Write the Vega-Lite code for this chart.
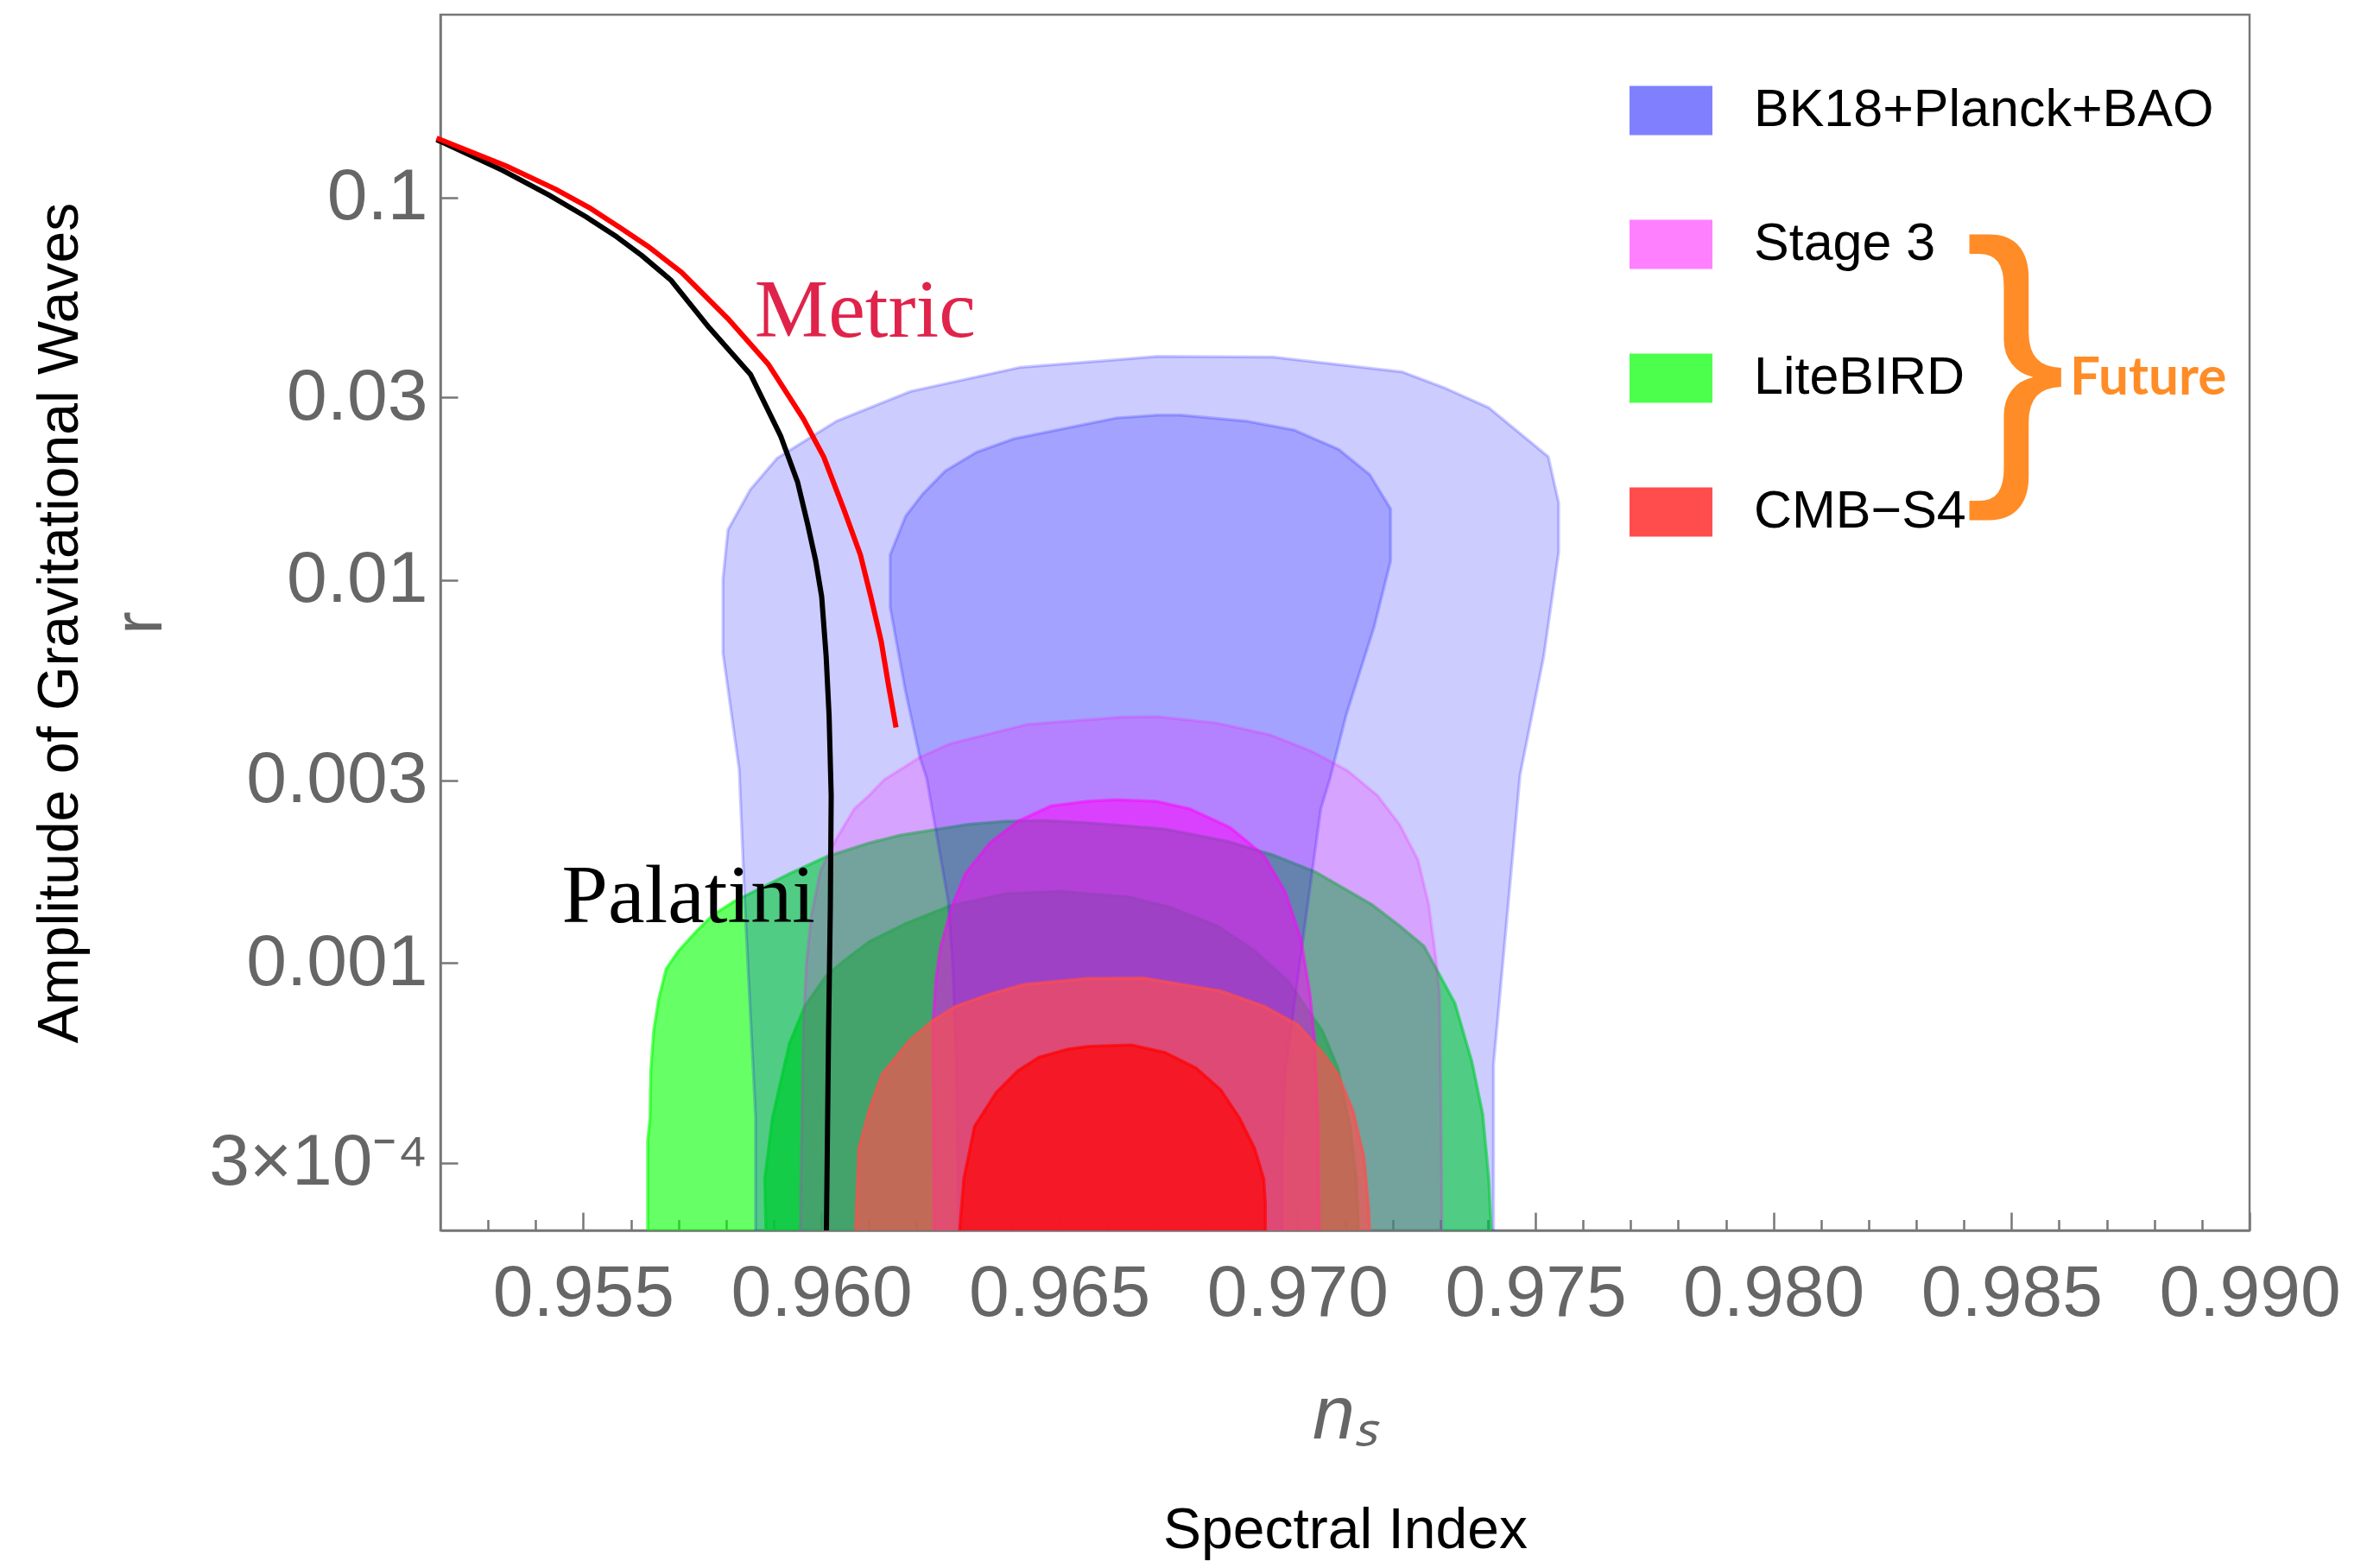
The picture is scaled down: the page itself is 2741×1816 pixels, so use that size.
{
  "$schema": "https://vega.github.io/schema/vega-lite/v6.json",
  "width": 2095,
  "height": 1408,
  "autosize": {"type": "none"},
  "padding": {"left": 510, "top": 17, "right": 136, "bottom": 391},
  "background": "white",
  "config": {
    "view": {"stroke": "#777777", "strokeWidth": 2.5},
    "axis": {
      "grid": false,
      "labelFont": "Liberation Sans",
      "titleFont": "Liberation Sans",
      "domainColor": "#777777",
      "domainWidth": 2.5,
      "tickColor": "#777777",
      "tickWidth": 2.5,
      "labelColor": "#666666",
      "labelFlush": false,
      "labelOverlap": false,
      "labelLimit": 1000,
      "titleFontWeight": "normal",
      "zindex": 1
    }
  },
  "datasets": {
    "contours": [
      {"c":"LBo","i":0,"ns":0.956353,"r":0.00018},
      {"c":"LBo","i":1,"ns":0.956353,"r":0.0003407},
      {"c":"LBo","i":2,"ns":0.956404,"r":0.0003947},
      {"c":"LBo","i":3,"ns":0.956419,"r":0.000522},
      {"c":"LBo","i":4,"ns":0.95648,"r":0.000664},
      {"c":"LBo","i":5,"ns":0.95658,"r":0.0007991},
      {"c":"LBo","i":6,"ns":0.956741,"r":0.0009636},
      {"c":"LBo","i":7,"ns":0.957001,"r":0.0010745},
      {"c":"LBo","i":8,"ns":0.957387,"r":0.0012133},
      {"c":"LBo","i":9,"ns":0.957714,"r":0.0013308},
      {"c":"LBo","i":10,"ns":0.958167,"r":0.0014466},
      {"c":"LBo","i":11,"ns":0.958684,"r":0.0015584},
      {"c":"LBo","i":12,"ns":0.959332,"r":0.0017093},
      {"c":"LBo","i":13,"ns":0.960108,"r":0.0018936},
      {"c":"LBo","i":14,"ns":0.961015,"r":0.0020578},
      {"c":"LBo","i":15,"ns":0.961662,"r":0.0021564},
      {"c":"LBo","i":16,"ns":0.963088,"r":0.0023},
      {"c":"LBo","i":17,"ns":0.963862,"r":0.0023434},
      {"c":"LBo","i":18,"ns":0.964697,"r":0.0023556},
      {"c":"LBo","i":19,"ns":0.965604,"r":0.0023216},
      {"c":"LBo","i":20,"ns":0.967218,"r":0.0022363},
      {"c":"LBo","i":21,"ns":0.968519,"r":0.0020793},
      {"c":"LBo","i":22,"ns":0.969485,"r":0.0019134},
      {"c":"LBo","i":23,"ns":0.970392,"r":0.0017244},
      {"c":"LBo","i":24,"ns":0.971553,"r":0.0014227},
      {"c":"LBo","i":25,"ns":0.972145,"r":0.0012498},
      {"c":"LBo","i":26,"ns":0.972659,"r":0.001105},
      {"c":"LBo","i":27,"ns":0.973309,"r":0.0007843},
      {"c":"LBo","i":28,"ns":0.973666,"r":0.0005515},
      {"c":"LBo","i":29,"ns":0.973893,"r":0.0004023},
      {"c":"LBo","i":30,"ns":0.97402,"r":0.0002725},
      {"c":"LBo","i":31,"ns":0.974089,"r":0.00018},

      {"c":"LBi","i":0,"ns":0.958845,"r":0.00018},
      {"c":"LBi","i":1,"ns":0.958813,"r":0.0002725},
      {"c":"LBi","i":2,"ns":0.958976,"r":0.0003947},
      {"c":"LBi","i":3,"ns":0.959332,"r":0.0006164},
      {"c":"LBi","i":4,"ns":0.959654,"r":0.0007705},
      {"c":"LBi","i":5,"ns":0.960108,"r":0.0009268},
      {"c":"LBi","i":6,"ns":0.960498,"r":0.0010171},
      {"c":"LBi","i":7,"ns":0.961015,"r":0.0011376},
      {"c":"LBi","i":8,"ns":0.961795,"r":0.0012707},
      {"c":"LBi","i":9,"ns":0.962698,"r":0.001408},
      {"c":"LBi","i":10,"ns":0.963862,"r":0.0015144},
      {"c":"LBi","i":11,"ns":0.96506,"r":0.0015382},
      {"c":"LBi","i":12,"ns":0.965604,"r":0.0015148},
      {"c":"LBi","i":13,"ns":0.966445,"r":0.0014871},
      {"c":"LBi","i":14,"ns":0.967352,"r":0.0013934},
      {"c":"LBi","i":15,"ns":0.968325,"r":0.0012472},
      {"c":"LBi","i":16,"ns":0.969101,"r":0.0010745},
      {"c":"LBi","i":17,"ns":0.969812,"r":0.0008932},
      {"c":"LBi","i":18,"ns":0.970525,"r":0.000664},
      {"c":"LBi","i":19,"ns":0.97085,"r":0.0005313},
      {"c":"LBi","i":20,"ns":0.971109,"r":0.0003734},
      {"c":"LBi","i":21,"ns":0.971238,"r":0.0002725},
      {"c":"LBi","i":22,"ns":0.971299,"r":0.00018},

      {"c":"Bo","i":0,"ns":0.95862,"r":0.00018},
      {"c":"Bo","i":1,"ns":0.95862,"r":0.0003947},
      {"c":"Bo","i":2,"ns":0.958392,"r":0.0014466},
      {"c":"Bo","i":3,"ns":0.958276,"r":0.003201},
      {"c":"Bo","i":4,"ns":0.957935,"r":0.006442},
      {"c":"Bo","i":5,"ns":0.957935,"r":0.010082},
      {"c":"Bo","i":6,"ns":0.95804,"r":0.013536},
      {"c":"Bo","i":7,"ns":0.95851,"r":0.017245},
      {"c":"Bo","i":8,"ns":0.959072,"r":0.020821},
      {"c":"Bo","i":9,"ns":0.960322,"r":0.026031},
      {"c":"Bo","i":10,"ns":0.961884,"r":0.031139},
      {"c":"Bo","i":11,"ns":0.964164,"r":0.035929},
      {"c":"Bo","i":12,"ns":0.967055,"r":0.038393},
      {"c":"Bo","i":13,"ns":0.969491,"r":0.038254},
      {"c":"Bo","i":14,"ns":0.972208,"r":0.034971},
      {"c":"Bo","i":15,"ns":0.973113,"r":0.031695},
      {"c":"Bo","i":16,"ns":0.97402,"r":0.028214},
      {"c":"Bo","i":17,"ns":0.97527,"r":0.021006},
      {"c":"Bo","i":18,"ns":0.975489,"r":0.015913},
      {"c":"Bo","i":19,"ns":0.975489,"r":0.011843},
      {"c":"Bo","i":20,"ns":0.975175,"r":0.006329},
      {"c":"Bo","i":21,"ns":0.974677,"r":0.003093},
      {"c":"Bo","i":22,"ns":0.97412,"r":0.0005413},
      {"c":"Bo","i":23,"ns":0.97412,"r":0.00018},

      {"c":"Bi","i":0,"ns":0.962894,"r":0.00018},
      {"c":"Bi","i":1,"ns":0.962829,"r":0.0005731},
      {"c":"Bi","i":2,"ns":0.962763,"r":0.0009636},
      {"c":"Bi","i":3,"ns":0.962665,"r":0.0014466},
      {"c":"Bi","i":4,"ns":0.96244,"r":0.0020966},
      {"c":"Bi","i":5,"ns":0.962212,"r":0.003039},
      {"c":"Bi","i":6,"ns":0.96207,"r":0.003443},
      {"c":"Bi","i":7,"ns":0.961758,"r":0.005199},
      {"c":"Bi","i":8,"ns":0.961446,"r":0.008506},
      {"c":"Bi","i":9,"ns":0.961446,"r":0.011636},
      {"c":"Bi","i":10,"ns":0.961771,"r":0.01468},
      {"c":"Bi","i":11,"ns":0.962132,"r":0.016795},
      {"c":"Bi","i":12,"ns":0.962602,"r":0.019277},
      {"c":"Bi","i":13,"ns":0.963257,"r":0.021577},
      {"c":"Bi","i":14,"ns":0.964038,"r":0.023385},
      {"c":"Bi","i":15,"ns":0.966193,"r":0.02651},
      {"c":"Bi","i":16,"ns":0.967055,"r":0.026982},
      {"c":"Bi","i":17,"ns":0.967556,"r":0.026982},
      {"c":"Bi","i":18,"ns":0.968929,"r":0.026031},
      {"c":"Bi","i":19,"ns":0.969928,"r":0.024672},
      {"c":"Bi","i":20,"ns":0.970866,"r":0.021962},
      {"c":"Bi","i":21,"ns":0.97152,"r":0.018861},
      {"c":"Bi","i":22,"ns":0.971959,"r":0.015351},
      {"c":"Bi","i":23,"ns":0.971959,"r":0.011226},
      {"c":"Bi","i":24,"ns":0.971615,"r":0.00757},
      {"c":"Bi","i":25,"ns":0.971022,"r":0.004425},
      {"c":"Bi","i":26,"ns":0.970688,"r":0.003039},
      {"c":"Bi","i":27,"ns":0.970492,"r":0.002525},
      {"c":"Bi","i":28,"ns":0.970138,"r":0.001202},
      {"c":"Bi","i":29,"ns":0.969879,"r":0.0006889},
      {"c":"Bi","i":30,"ns":0.969748,"r":0.000522},
      {"c":"Bi","i":31,"ns":0.969685,"r":0.0003285},
      {"c":"Bi","i":32,"ns":0.969685,"r":0.00018},

      {"c":"So","i":0,"ns":0.959558,"r":0.00018},
      {"c":"So","i":1,"ns":0.959558,"r":0.0002026},
      {"c":"So","i":2,"ns":0.959591,"r":0.0003947},
      {"c":"So","i":3,"ns":0.959623,"r":0.0006889},
      {"c":"So","i":4,"ns":0.959687,"r":0.0009993},
      {"c":"So","i":5,"ns":0.959785,"r":0.0013184},
      {"c":"So","i":6,"ns":0.959981,"r":0.0017424},
      {"c":"So","i":7,"ns":0.960304,"r":0.0020966},
      {"c":"So","i":8,"ns":0.960692,"r":0.002525},
      {"c":"So","i":9,"ns":0.961008,"r":0.00274},
      {"c":"So","i":10,"ns":0.961321,"r":0.003011},
      {"c":"So","i":11,"ns":0.96207,"r":0.003443},
      {"c":"So","i":12,"ns":0.962694,"r":0.003734},
      {"c":"So","i":13,"ns":0.964316,"r":0.004195},
      {"c":"So","i":14,"ns":0.966318,"r":0.004386},
      {"c":"So","i":15,"ns":0.967055,"r":0.004395},
      {"c":"So","i":16,"ns":0.968305,"r":0.004232},
      {"c":"So","i":17,"ns":0.969429,"r":0.003941},
      {"c":"So","i":18,"ns":0.970302,"r":0.00357},
      {"c":"So","i":19,"ns":0.971053,"r":0.003178},
      {"c":"So","i":20,"ns":0.971678,"r":0.00274},
      {"c":"So","i":21,"ns":0.972145,"r":0.0023},
      {"c":"So","i":22,"ns":0.972533,"r":0.0018585},
      {"c":"So","i":23,"ns":0.972759,"r":0.0014198},
      {"c":"So","i":24,"ns":0.972921,"r":0.0009993},
      {"c":"So","i":25,"ns":0.972986,"r":0.0008287},
      {"c":"So","i":26,"ns":0.973019,"r":0.0003947},
      {"c":"So","i":27,"ns":0.973041,"r":0.00018},

      {"c":"Si","i":0,"ns":0.962375,"r":0.00018},
      {"c":"Si","i":1,"ns":0.962357,"r":0.0003801},
      {"c":"Si","i":2,"ns":0.962342,"r":0.0006889},
      {"c":"Si","i":3,"ns":0.962408,"r":0.0009101},
      {"c":"Si","i":4,"ns":0.962502,"r":0.001097},
      {"c":"Si","i":5,"ns":0.962731,"r":0.0013934},
      {"c":"Si","i":6,"ns":0.963023,"r":0.0017093},
      {"c":"Si","i":7,"ns":0.963541,"r":0.0020578},
      {"c":"Si","i":8,"ns":0.964124,"r":0.0023434},
      {"c":"Si","i":9,"ns":0.964837,"r":0.002573},
      {"c":"Si","i":10,"ns":0.9656,"r":0.002643},
      {"c":"Si","i":11,"ns":0.966184,"r":0.002668},
      {"c":"Si","i":12,"ns":0.967028,"r":0.002643},
      {"c":"Si","i":13,"ns":0.96774,"r":0.002525},
      {"c":"Si","i":14,"ns":0.968582,"r":0.0022597},
      {"c":"Si","i":15,"ns":0.969295,"r":0.0019104},
      {"c":"Si","i":16,"ns":0.969748,"r":0.0015302},
      {"c":"Si","i":17,"ns":0.970073,"r":0.0011579},
      {"c":"Si","i":18,"ns":0.970265,"r":0.0008287},
      {"c":"Si","i":19,"ns":0.970363,"r":0.0006277},
      {"c":"Si","i":20,"ns":0.970429,"r":0.0003947},
      {"c":"Si","i":21,"ns":0.970461,"r":0.00018},

      {"c":"Co","i":0,"ns":0.960725,"r":0.00018},
      {"c":"Co","i":1,"ns":0.960725,"r":0.0002061},
      {"c":"Co","i":2,"ns":0.960788,"r":0.0003278},
      {"c":"Co","i":3,"ns":0.961015,"r":0.0004172},
      {"c":"Co","i":4,"ns":0.961274,"r":0.000512},
      {"c":"Co","i":5,"ns":0.961856,"r":0.0006277},
      {"c":"Co","i":6,"ns":0.96231,"r":0.0007019},
      {"c":"Co","i":7,"ns":0.962829,"r":0.0007705},
      {"c":"Co","i":8,"ns":0.963541,"r":0.0008287},
      {"c":"Co","i":9,"ns":0.964254,"r":0.0008775},
      {"c":"Co","i":10,"ns":0.9656,"r":0.0009101},
      {"c":"Co","i":11,"ns":0.966765,"r":0.0009129},
      {"c":"Co","i":12,"ns":0.968388,"r":0.0008446},
      {"c":"Co","i":13,"ns":0.969295,"r":0.0007705},
      {"c":"Co","i":14,"ns":0.970008,"r":0.0006889},
      {"c":"Co","i":15,"ns":0.970525,"r":0.000583},
      {"c":"Co","i":16,"ns":0.97085,"r":0.000512},
      {"c":"Co","i":17,"ns":0.971172,"r":0.0004095},
      {"c":"Co","i":18,"ns":0.971399,"r":0.0003102},
      {"c":"Co","i":19,"ns":0.971499,"r":0.0002259},
      {"c":"Co","i":20,"ns":0.971529,"r":0.00018},

      {"c":"Ci","i":0,"ns":0.962894,"r":0.00018},
      {"c":"Ci","i":1,"ns":0.962894,"r":0.0001913},
      {"c":"Ci","i":2,"ns":0.962992,"r":0.0002725},
      {"c":"Ci","i":3,"ns":0.963217,"r":0.0003734},
      {"c":"Ci","i":4,"ns":0.96367,"r":0.0004581},
      {"c":"Ci","i":5,"ns":0.964124,"r":0.000522},
      {"c":"Ci","i":6,"ns":0.964577,"r":0.0005671},
      {"c":"Ci","i":7,"ns":0.965159,"r":0.0005942},
      {"c":"Ci","i":8,"ns":0.9656,"r":0.0006048},
      {"c":"Ci","i":9,"ns":0.966511,"r":0.0006105},
      {"c":"Ci","i":10,"ns":0.967224,"r":0.000583},
      {"c":"Ci","i":11,"ns":0.967871,"r":0.0005313},
      {"c":"Ci","i":12,"ns":0.968388,"r":0.0004663},
      {"c":"Ci","i":13,"ns":0.968778,"r":0.0003947},
      {"c":"Ci","i":14,"ns":0.969101,"r":0.0003278},
      {"c":"Ci","i":15,"ns":0.969295,"r":0.0002725},
      {"c":"Ci","i":16,"ns":0.969328,"r":0.0002347},
      {"c":"Ci","i":17,"ns":0.969328,"r":0.00018}
    ],
    "curves": [
      {"m":"Palatini","i":0,"ns":0.95192,"r":0.1415},
      {"m":"Palatini","i":1,"ns":0.953308,"r":0.11754},
      {"m":"Palatini","i":2,"ns":0.95428,"r":0.10134},
      {"m":"Palatini","i":3,"ns":0.955056,"r":0.08896},
      {"m":"Palatini","i":4,"ns":0.955704,"r":0.07884},
      {"m":"Palatini","i":5,"ns":0.956223,"r":0.07058},
      {"m":"Palatini","i":6,"ns":0.956837,"r":0.06084},
      {"m":"Palatini","i":7,"ns":0.957646,"r":0.04563},
      {"m":"Palatini","i":8,"ns":0.958515,"r":0.03443},
      {"m":"Palatini","i":9,"ns":0.959146,"r":0.0238},
      {"m":"Palatini","i":10,"ns":0.9595,"r":0.01807},
      {"m":"Palatini","i":11,"ns":0.959709,"r":0.01408},
      {"m":"Palatini","i":12,"ns":0.959883,"r":0.01123},
      {"m":"Palatini","i":13,"ns":0.960008,"r":0.009053},
      {"m":"Palatini","i":14,"ns":0.960102,"r":0.006329},
      {"m":"Palatini","i":15,"ns":0.960164,"r":0.004425},
      {"m":"Palatini","i":16,"ns":0.960208,"r":0.00274},
      {"m":"Palatini","i":17,"ns":0.96019,"r":0.001394},
      {"m":"Palatini","i":18,"ns":0.960153,"r":0.0006595},
      {"m":"Palatini","i":19,"ns":0.960108,"r":0.0002},
      {"m":"Metric","i":0,"ns":0.95192,"r":0.1428},
      {"m":"Metric","i":1,"ns":0.953373,"r":0.12089},
      {"m":"Metric","i":2,"ns":0.954409,"r":0.10515},
      {"m":"Metric","i":3,"ns":0.955122,"r":0.09408},
      {"m":"Metric","i":4,"ns":0.955769,"r":0.08335},
      {"m":"Metric","i":5,"ns":0.956351,"r":0.07462},
      {"m":"Metric","i":6,"ns":0.957064,"r":0.06372},
      {"m":"Metric","i":7,"ns":0.958035,"r":0.04825},
      {"m":"Metric","i":8,"ns":0.958893,"r":0.03655},
      {"m":"Metric","i":9,"ns":0.959627,"r":0.02633},
      {"m":"Metric","i":10,"ns":0.960053,"r":0.02096},
      {"m":"Metric","i":11,"ns":0.960485,"r":0.01517},
      {"m":"Metric","i":12,"ns":0.960821,"r":0.01164},
      {"m":"Metric","i":13,"ns":0.96104,"r":0.009053},
      {"m":"Metric","i":14,"ns":0.961258,"r":0.006924},
      {"m":"Metric","i":15,"ns":0.961414,"r":0.005292},
      {"m":"Metric","i":16,"ns":0.96157,"r":0.004119}
    ],
    "surveys": [
      {"survey":"BK18+Planck+BAO"},
      {"survey":"Stage 3"},
      {"survey":"LiteBIRD"},
      {"survey":"CMB−S4"}
    ]
  },
  "encoding": {
    "x": {"field": "ns", "type": "quantitative", "scale": {"domain": [0.952, 0.99], "nice": false, "zero": false}, "axis": null},
    "y": {"field": "r", "type": "quantitative", "scale": {"type": "log", "domain": [0.0002, 0.3], "nice": false}, "axis": null}
  },
  "layer": [
    {
      "data": {"name": "contours"},
      "transform": [{"filter": "datum.c === 'LBo'"}],
      "mark": {"type": "line", "clip": true, "fill": "#00ff00", "fillOpacity": 0.6, "stroke": "#00ff00", "strokeOpacity": 0.6, "strokeWidth": 3.5, "strokeJoin": "round"},
      "encoding": {
        "x": {"field": "ns", "type": "quantitative", "scale": {"domain": [0.952, 0.99], "nice": false, "zero": false},
          "axis": {"orient": "bottom", "values": [0.955, 0.96, 0.965, 0.97, 0.975, 0.98, 0.985, 0.99], "format": ".3f",
            "tickSize": -21, "labelFontSize": 84, "labelPadding": 53,
            "title": "nₛ", "titleFontSize": 88, "titleFontStyle": "italic", "titleColor": "#666666", "titlePadding": 55}},
        "y": {"field": "r", "type": "quantitative", "scale": {"type": "log", "domain": [0.0002, 0.3], "nice": false},
          "axis": {"orient": "left", "values": [0.0003, 0.001, 0.003, 0.01, 0.03, 0.1], "format": "~g",
            "labelExpr": "datum.value < 0.0005 ? '3×10⁻⁴' : datum.label",
            "tickSize": -20, "labelFontSize": 84, "labelPadding": 35,
            "title": "r", "titleFontSize": 80, "titleColor": "#666666", "titlePadding": 107}},
        "order": {"field": "i", "type": "quantitative"}
      }
    },
    {
      "data": {"name": "contours"},
      "transform": [{"filter": "datum.c === 'LBi'"}],
      "mark": {"type": "line", "clip": true, "fill": "#00ff00", "fillOpacity": 0.75, "stroke": "#00ff00", "strokeOpacity": 0.75, "strokeWidth": 3.5, "strokeJoin": "round"},
      "encoding": {
        "x": {"field": "ns", "type": "quantitative", "scale": {"domain": [0.952, 0.99], "nice": false, "zero": false},
          "axis": {"orient": "bottom", "values": [0.953, 0.954, 0.956, 0.957, 0.958, 0.959, 0.961, 0.962, 0.963, 0.964, 0.966, 0.967, 0.968, 0.969, 0.971, 0.972, 0.973, 0.974, 0.976, 0.977, 0.978, 0.979, 0.981, 0.982, 0.983, 0.984, 0.986, 0.987, 0.988, 0.989],
            "tickSize": -12.5, "labels": false, "domain": false,
            "title": "Spectral Index", "titleFontSize": 66, "titleColor": "black", "titlePadding": 314}},
        "y": {"field": "r", "type": "quantitative", "scale": {"type": "log", "domain": [0.0002, 0.3], "nice": false},
          "axis": {"orient": "left", "domain": false, "ticks": false, "labels": false,
            "title": "Amplitude of Gravitational Waves", "titleFontSize": 66, "titleColor": "black", "titlePadding": 407}},
        "order": {"field": "i", "type": "quantitative"}
      }
    },
    {
      "data": {"name": "contours"},
      "transform": [{"filter": "datum.c === 'Bo'"}],
      "mark": {"type": "line", "clip": true, "fill": "#0000ff", "fillOpacity": 0.2, "stroke": "#0000ff", "strokeOpacity": 0.2, "strokeWidth": 3.5, "strokeJoin": "round"},
      "encoding": {"order": {"field": "i", "type": "quantitative"}}
    },
    {
      "data": {"name": "contours"},
      "transform": [{"filter": "datum.c === 'Bi'"}],
      "mark": {"type": "line", "clip": true, "fill": "#0000ff", "fillOpacity": 0.2, "stroke": "#0000ff", "strokeOpacity": 0.2, "strokeWidth": 3.5, "strokeJoin": "round"},
      "encoding": {"order": {"field": "i", "type": "quantitative"}}
    },
    {
      "data": {"name": "contours"},
      "transform": [{"filter": "datum.c === 'So'"}],
      "mark": {"type": "line", "clip": true, "fill": "#ff00ff", "fillOpacity": 0.2, "stroke": "#ff00ff", "strokeOpacity": 0.2, "strokeWidth": 3.5, "strokeJoin": "round"},
      "encoding": {"order": {"field": "i", "type": "quantitative"}}
    },
    {
      "data": {"name": "contours"},
      "transform": [{"filter": "datum.c === 'Si'"}],
      "mark": {"type": "line", "clip": true, "fill": "#ff00ff", "fillOpacity": 0.5, "stroke": "#ff00ff", "strokeOpacity": 0.5, "strokeWidth": 3.5, "strokeJoin": "round"},
      "encoding": {"order": {"field": "i", "type": "quantitative"}}
    },
    {
      "data": {"name": "contours"},
      "transform": [{"filter": "datum.c === 'Co'"}],
      "mark": {"type": "line", "clip": true, "fill": "#ff4d4d", "fillOpacity": 0.67, "stroke": "#ff4d4d", "strokeOpacity": 0.67, "strokeWidth": 3.5, "strokeJoin": "round"},
      "encoding": {"order": {"field": "i", "type": "quantitative"}}
    },
    {
      "data": {"name": "contours"},
      "transform": [{"filter": "datum.c === 'Ci'"}],
      "mark": {"type": "line", "clip": true, "fill": "#ff0000", "fillOpacity": 0.67, "stroke": "#ff0000", "strokeOpacity": 0.67, "strokeWidth": 3.5, "strokeJoin": "round"},
      "encoding": {"order": {"field": "i", "type": "quantitative"}}
    },
    {
      "data": {"name": "curves"},
      "transform": [{"filter": "datum.m === 'Palatini'"}],
      "mark": {"type": "line", "color": "#000000", "strokeWidth": 6, "strokeCap": "butt", "strokeJoin": "round"},
      "encoding": {"order": {"field": "i", "type": "quantitative"}}
    },
    {
      "data": {"name": "curves"},
      "transform": [{"filter": "datum.m === 'Metric'"}],
      "mark": {"type": "line", "color": "#ff0000", "strokeWidth": 6, "strokeCap": "butt", "strokeJoin": "round"},
      "encoding": {"order": {"field": "i", "type": "quantitative"}}
    },
    {
      "data": {"values": [{"label": "Metric", "ns": 0.9586, "r": 0.04327}]},
      "mark": {"type": "text", "font": "Liberation Serif", "fontSize": 96, "color": "#e0234a", "align": "left", "baseline": "alphabetic"},
      "encoding": {"text": {"field": "label"}}
    },
    {
      "data": {"values": [{"label": "Palatini", "ns": 0.95987, "r": 0.00128}]},
      "mark": {"type": "text", "font": "Liberation Serif", "fontSize": 96, "color": "#000000", "align": "right", "baseline": "alphabetic"},
      "encoding": {"text": {"field": "label"}}
    },
    {
      "data": {"values": [{"label": "}", "ns": 0.985084, "r": 0.02102}]},
      "mark": {"type": "text", "font": "Liberation Sans", "fontSize": 355, "color": "#ff8c26", "align": "center", "baseline": "alphabetic"},
      "encoding": {"text": {"field": "label"}}
    },
    {
      "data": {"values": [{"label": "Future", "ns": 0.986227, "r": 0.030546}]},
      "mark": {"type": "text", "font": "Lato", "fontWeight": "bold", "fontSize": 62, "color": "#ff8c26", "align": "left", "baseline": "alphabetic"},
      "encoding": {"text": {"field": "label"}}
    },
    {
      "data": {"name": "surveys"},
      "mark": {"type": "square", "opacity": 0},
      "encoding": {
        "color": {"field": "survey", "type": "nominal",
          "scale": {"domain": ["BK18+Planck+BAO", "Stage 3", "LiteBIRD", "CMB−S4"], "range": ["#8080ff", "#ff80ff", "#4dff4d", "#ff4d4d"]},
          "legend": {"orient": "none", "legendX": 1377, "legendY": 63, "title": null, "padding": 0,
            "symbolType": "M-1,-0.594H1V0.594H-1Z", "symbolSize": 9216, "symbolStrokeWidth": 0, "symbolOpacity": 1,
            "labelFont": "Liberation Sans", "labelFontSize": 61, "labelColor": "#000000", "labelOffset": 48, "labelLimit": 1000,
            "rowPadding": 77, "direction": "vertical"}}
      }
    }
  ],
  "resolve": {"axis": {"x": "independent", "y": "independent"}}
}
